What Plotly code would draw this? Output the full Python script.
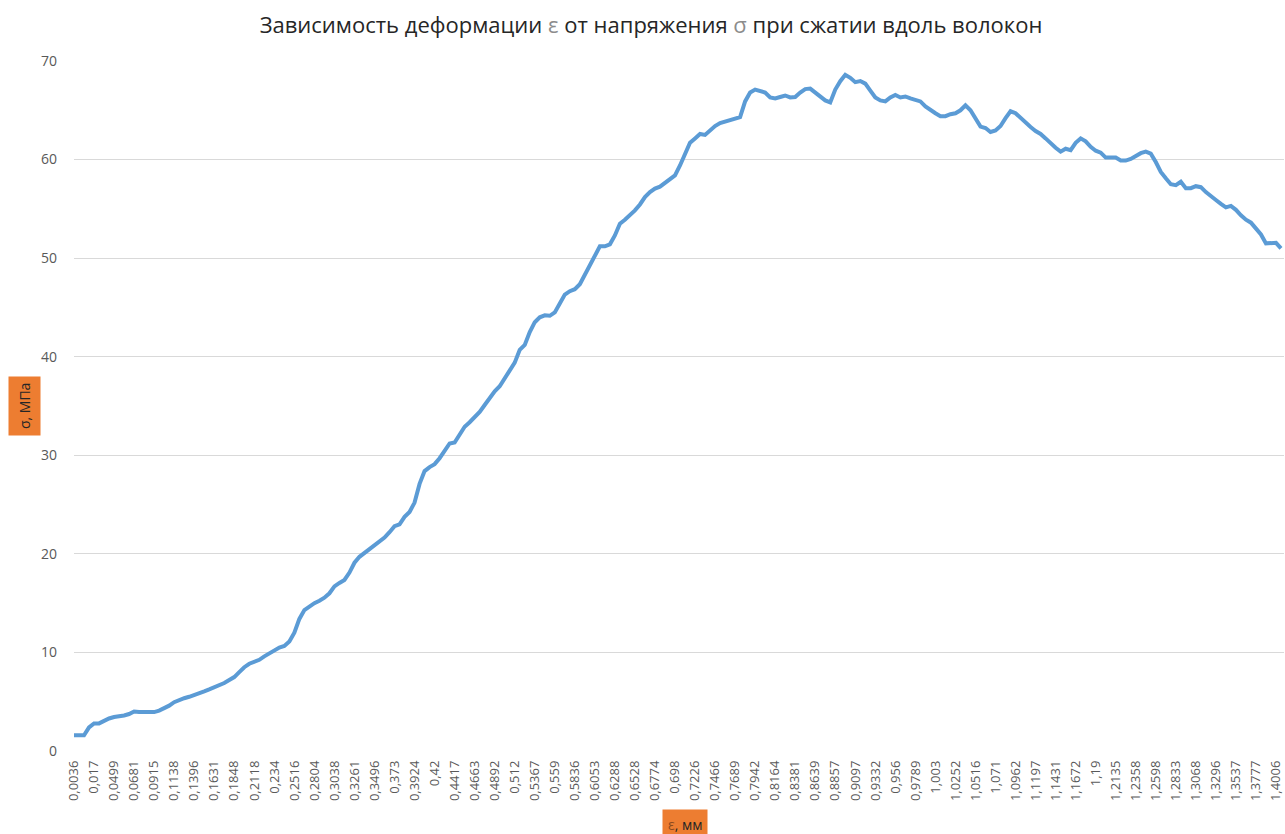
import plotly.graph_objects as go

# Strain tick labels (category axis, shown every 4th reading)
strain_labels = ["0,0036", "0,017", "0,0499", "0,0681", "0,0915", "0,1138", "0,1396", "0,1631",
                 "0,1848", "0,2118", "0,234", "0,2516", "0,2804", "0,3038", "0,3261", "0,3496",
                 "0,373", "0,3924", "0,42", "0,4417", "0,4663", "0,4892", "0,512", "0,5367",
                 "0,559", "0,5836", "0,6053", "0,6288", "0,6528", "0,6774", "0,698", "0,7226",
                 "0,7466", "0,7689", "0,7942", "0,8164", "0,8381", "0,8639", "0,8857", "0,9097",
                 "0,9332", "0,956", "0,9789", "1,003", "1,0252", "1,0516", "1,071", "1,0962",
                 "1,1197", "1,1431", "1,1672", "1,19", "1,2135", "1,2358", "1,2598", "1,2833",
                 "1,3068", "1,3296", "1,3537", "1,3777", "1,4006"]

# Stress readings, MPa
stress = [1.6, 1.6, 1.6, 2.4, 2.8, 2.8, 3.1, 3.3, 3.45, 3.5,
          3.6, 3.75, 4.0, 3.95, 3.95, 3.95, 3.95, 4.1, 4.3, 4.6,
          4.95, 5.2, 5.35, 5.5, 5.65, 5.85, 6.05, 6.25, 6.45, 6.65,
          6.9, 7.2, 7.5, 8.0, 8.5, 8.85, 9.0, 9.25, 9.6, 9.9,
          10.3, 10.5, 10.65, 11.1, 12.0, 13.4, 14.3, 14.7, 15.0, 15.25,
          15.55, 16.0, 16.7, 17.05, 17.35, 18.1, 19.1, 19.7, 20.1, 20.45,
          20.85, 21.25, 21.65, 22.2, 22.8, 23.0, 23.75, 24.25, 25.2, 27.1,
          28.4, 28.8, 29.1, 29.7, 30.5, 31.2, 31.3, 32.1, 32.9, 33.35,
          33.9, 34.4, 35.1, 35.85, 36.5, 37.0, 37.75, 38.5, 39.4, 40.7,
          41.2, 42.5, 43.5, 44.0, 44.2, 44.15, 44.5, 45.4, 46.3, 46.65,
          46.85, 47.35, 48.35, 49.3, 50.15, 51.2, 51.2, 51.4, 52.3, 53.5,
          53.9, 54.35, 54.85, 55.45, 56.2, 56.7, 57.05, 57.25, 57.6, 58.0,
          58.4, 59.4, 60.65, 61.7, 62.15, 62.6, 62.5, 63.0, 63.4, 63.7,
          63.85, 64.0, 64.2, 64.3, 65.9, 66.8, 67.1, 66.9, 66.8, 66.3,
          66.2, 66.35, 66.5, 66.3, 66.35, 66.8, 67.15, 67.2, 66.8, 66.35,
          66.0, 65.8, 67.1, 67.95, 68.6, 68.3, 67.85, 67.97, 67.7, 67.0,
          66.3, 66.0, 65.9, 66.3, 66.55, 66.3, 66.4, 66.2, 66.0, 65.9,
          65.4, 65.0, 64.7, 64.4, 64.4, 64.6, 64.7, 65.0, 65.5, 65.0,
          64.25, 63.35, 63.2, 62.8, 62.95, 63.4, 64.2, 64.9, 64.7, 64.2,
          63.7, 63.3, 62.9, 62.6, 62.15, 61.65, 61.2, 60.8, 61.1, 60.95,
          61.7, 62.15, 61.85, 61.3, 60.9, 60.7, 60.2, 60.2, 60.2, 59.9,
          59.9, 60.06, 60.4, 60.65, 60.8, 60.6, 59.75, 58.75, 58.1, 57.5,
          57.4, 57.75, 57.1, 57.1, 57.3, 57.2, 56.7, 56.35, 55.9, 55.5,
          55.15, 55.3, 54.9, 54.35, 53.9, 53.6, 53.0, 52.4, 51.5, 51.5,
          51.55, 51.0]

label_step = 4
y_ticks = [0, 10, 20, 30, 40, 50, 60, 70]

idx = list(range(len(stress)))
tickvals = [i * label_step for i in range(len(strain_labels))]

FONT = "Open Sans"
W, H = 1285, 834
ML, MR, MT, MB = 74, 1, 61, 83
PW, PH = W - ML - MR, H - MT - MB


def px_x(x):
    return (x - ML) / PW


def px_y(y):
    return (H - MB - y) / PH


fig = go.Figure()
fig.add_trace(go.Scatter(
    x=idx, y=stress, mode="lines",
    line=dict(color="#5B9BD5", width=4),
    hoverinfo="y", showlegend=False,
))

fig.update_layout(
    width=W, height=H,
    paper_bgcolor="white", plot_bgcolor="white",
    margin=dict(l=ML, r=MR, t=MT, b=MB, autoexpand=False),
    font=dict(family=FONT, color="#595959"),
    title=dict(
        text="Зависимость деформации <span style='color:#8c8c8c'>ε</span> от напряжения "
             "<span style='color:#8c8c8c'>σ</span> при сжатии вдоль волокон",
        x=651 / W, xanchor="center", xref="container",
        y=1 - 25 / H, yref="container", yanchor="middle",
        font=dict(family=FONT, size=22, color="#262626"),
    ),
    xaxis=dict(
        range=[0, 241.6], automargin=False,
        tickmode="array", tickvals=tickvals, ticktext=strain_labels,
        tickangle=-90, tickfont=dict(size=13, color="#595959"),
        showgrid=False, zeroline=False, showline=False, ticks="",
        ticklabelstandoff=6,
    ),
    yaxis=dict(
        range=[0, 70], automargin=False,
        tickmode="array", tickvals=y_ticks,
        tickfont=dict(size=14, color="#595959"),
        showgrid=True, gridcolor="#d9d9d9", gridwidth=1,
        zeroline=False, showline=False, ticks="",
        ticklabelstandoff=16,
    ),
    annotations=[
        dict(text="σ, МПа", textangle=-90,
             x=px_x(24), xref="paper", y=px_y(406), yref="paper",
             xanchor="center", yanchor="middle",
             showarrow=False, bgcolor="#ED7D31",
             font=dict(family=FONT, size=14, color="#262626"),
             borderpad=6),
        dict(text="<span style='color:#8c4a1e'>ε</span>, мм",
             x=px_x(685), xref="paper", y=px_y(824), yref="paper",
             xanchor="center", yanchor="middle",
             showarrow=False, bgcolor="#ED7D31",
             font=dict(family=FONT, size=14, color="#262626"),
             borderpad=5),
    ],
)

fig.write_html("out.html",
               config={"displayModeBar": False},
               post_script="document.body.style.margin='0';"
                           "document.body.style.overflow='hidden';")
